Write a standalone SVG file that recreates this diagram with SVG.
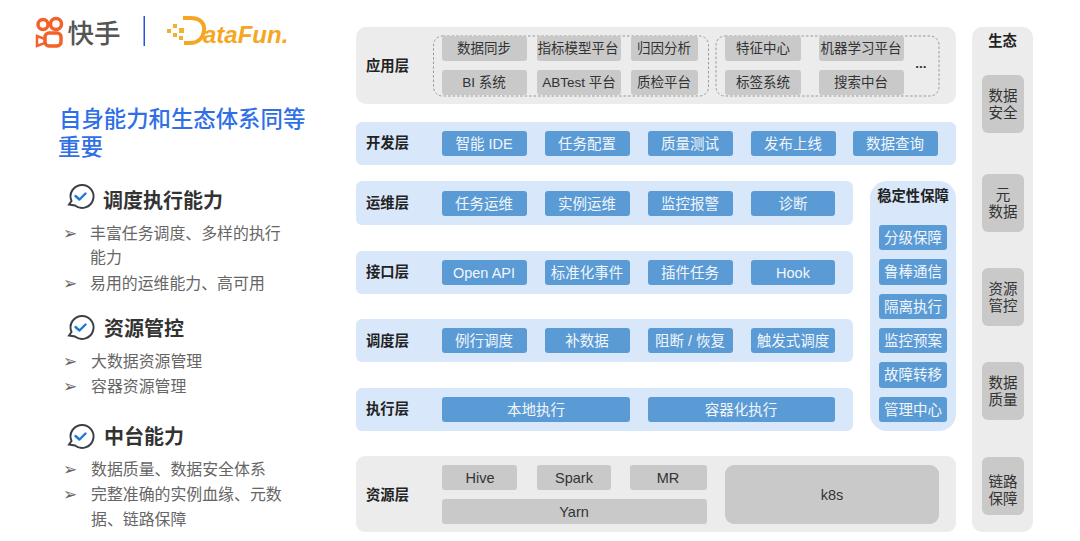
<svg xmlns="http://www.w3.org/2000/svg" width="1080" height="541" viewBox="0 0 1080 541">
<style>
text{font-family:"Liberation Sans","Noto Sans CJK SC",sans-serif}
.g{fill:#ececec}.b{fill:#d8e7f9}
.cg{fill:#c9c9c9}.cb{fill:#5a9bd5}
.tg{font-size:14.500px;fill:#333;text-anchor:middle}
.ta{font-size:13.500px;fill:#333;text-anchor:middle}
.tb{font-size:14.500px;fill:#f2f6fb;text-anchor:middle}
.lb{font-size:14.300px;font-weight:700;fill:#222;text-anchor:middle}
.h{font-size:20px;font-weight:700;fill:#333}
.li{font-size:15.900px;fill:#666}
.ar{font-size:17px;fill:#666;font-family:"DejaVu Sans",sans-serif}
.ds{fill:none;stroke:#999;stroke-width:1;stroke-dasharray:2.5 2}
.ck{fill:none;stroke:#1f78d8;stroke-width:2.4;stroke-linecap:round;stroke-linejoin:round}
.bu{fill:none;stroke:#3a4048;stroke-width:2}
</style>
<defs>
<g id="chk"><path class="bu" d="M69 204.500l2.500-3.500a11.500 11.500 0 1 1 3.500 4.500z"/><path class="ck" d="M75.500 196l4 3.500 6-6"/></g>
</defs>
<g id="logos">
<g fill="none" stroke="#f2622a" stroke-width="3.500"><circle cx="43" cy="24.500" r="5"/><circle cx="56" cy="24" r="5.500"/><rect x="45" y="33" width="16" height="13" rx="4"/></g>
<path d="M37 36l8 3v4l-8 3z" fill="none" stroke="#f2622a" stroke-width="2.500"/>
<text x="67.500" y="43" font-size="26.500" fill="#555" font-weight="500">快手</text>
<rect x="143.500" y="16" width="1.500" height="30" fill="#2a52e0"/>
<g fill="#f5b02e"><rect x="167" y="29" width="4" height="4"/><rect x="173" y="24" width="4" height="4"/><rect x="173" y="33" width="4" height="4"/><rect x="179" y="28" width="5" height="5"/><rect x="179" y="36" width="4" height="4"/></g>
<path d="M183 18h7c11 0 15 6 14 13-1 8-7 12-14 12h-6" fill="none" stroke="#f5a623" stroke-width="4"/>
<text x="203" y="43" font-size="24" font-weight="700" font-style="italic" fill="#f5a623">ataFun.</text>
</g>
<g id="left-panel">
<text x="59" y="127" font-size="22.400" font-weight="500" fill="#2f6fe8">自身能力和生态体系同等</text>
<text x="58" y="155" font-size="22.400" font-weight="500" fill="#2f6fe8">重要</text>
<use href="#chk"/>
<text class="h" x="103" y="208">调度执行能力</text>
<text class="ar" x="63" y="239">➢</text><text class="li" x="90" y="239">丰富任务调度、多样的执行</text>
<text class="li" x="90" y="263">能力</text>
<text class="ar" x="63" y="289">➢</text><text class="li" x="90" y="289">易用的运维能力、高可用</text>
<use href="#chk" y="131"/>
<text class="h" x="104" y="336">资源管控</text>
<text class="ar" x="63" y="367">➢</text><text class="li" x="91" y="367">大数据资源管理</text>
<text class="ar" x="63" y="392">➢</text><text class="li" x="91" y="392">容器资源管理</text>
<use href="#chk" y="240"/>
<text class="h" x="104" y="444">中台能力</text>
<text class="ar" x="63" y="475">➢</text><text class="li" x="91" y="475">数据质量、数据安全体系</text>
<text class="ar" x="63" y="500">➢</text><text class="li" x="91" y="500">完整准确的实例血缘、元数</text>
<text class="li" x="91" y="525">据、链路保障</text>
</g>
<g id="layer-app">
<rect class="g" x="356" y="27" width="600" height="77" rx="10"/>
<text class="lb" x="387.500" y="71">应用层</text>
<rect class="ds" x="433.500" y="36" width="275" height="60" rx="9"/>
<rect class="ds" x="716" y="36" width="223" height="60" rx="9"/>
<g class="cg">
<rect x="442" y="36" width="85" height="25" rx="3"/><rect x="537" y="36" width="84" height="25" rx="3"/><rect x="631" y="36" width="67" height="25" rx="3"/>
<rect x="442" y="70" width="85" height="25" rx="3"/><rect x="537" y="70" width="84" height="25" rx="3"/><rect x="631" y="70" width="67" height="25" rx="3"/>
<rect x="725" y="36" width="76" height="25" rx="3"/><rect x="819" y="36" width="85" height="25" rx="3"/>
<rect x="725" y="70" width="76" height="25" rx="3"/><rect x="819" y="70" width="85" height="25" rx="3"/>
</g>
<text class="ta" x="484" y="53">数据同步</text><text class="ta" x="578" y="53">指标模型平台</text><text class="ta" x="664" y="53">归因分析</text>
<text class="ta" x="484" y="87">BI 系统</text><text class="ta" x="579" y="87">ABTest 平台</text><text class="ta" x="664" y="87">质检平台</text>
<text class="ta" x="763" y="53">特征中心</text><text class="ta" x="861" y="53">机器学习平台</text>
<text class="ta" x="763" y="87">标签系统</text><text class="ta" x="861" y="87">搜索中台</text>
<text class="ta" x="921" y="68" font-weight="700">...</text>
</g>
<g id="layer-dev">
<rect class="b" x="356" y="122" width="600" height="43" rx="6"/>
<text class="lb" x="387.500" y="148">开发层</text>
<g class="cb"><rect x="442" y="131" width="85" height="25" rx="3"/><rect x="545" y="131" width="85" height="25" rx="3"/><rect x="648" y="131" width="85" height="25" rx="3"/><rect x="751" y="131" width="85" height="25" rx="3"/><rect x="853" y="131" width="85" height="25" rx="3"/></g>
<text class="tb" x="484" y="149">智能 IDE</text><text class="tb" x="587" y="149">任务配置</text><text class="tb" x="690" y="149">质量测试</text><text class="tb" x="793" y="149">发布上线</text><text class="tb" x="895" y="149">数据查询</text>
</g>
<g id="layer-ops">
<rect class="b" x="356" y="181" width="497" height="44" rx="6"/>
<text class="lb" x="387.500" y="208">运维层</text>
<g class="cb"><rect x="442" y="191" width="85" height="25" rx="3"/><rect x="545" y="191" width="85" height="25" rx="3"/><rect x="648" y="191" width="85" height="25" rx="3"/><rect x="751" y="191" width="84" height="25" rx="3"/></g>
<text class="tb" x="484" y="209">任务运维</text><text class="tb" x="587" y="209">实例运维</text><text class="tb" x="690" y="209">监控报警</text><text class="tb" x="793" y="209">诊断</text>
</g>
<g id="layer-api">
<rect class="b" x="356" y="251" width="497" height="43" rx="6"/>
<text class="lb" x="387.500" y="277">接口层</text>
<g class="cb"><rect x="442" y="260" width="85" height="25" rx="3"/><rect x="545" y="260" width="85" height="25" rx="3"/><rect x="648" y="260" width="85" height="25" rx="3"/><rect x="751" y="260" width="84" height="25" rx="3"/></g>
<text class="tb" x="484" y="278">Open API</text><text class="tb" x="587" y="278">标准化事件</text><text class="tb" x="690" y="278">插件任务</text><text class="tb" x="793" y="278">Hook</text>
</g>
<g id="layer-sched">
<rect class="b" x="356" y="319" width="497" height="43" rx="6"/>
<text class="lb" x="387.500" y="346">调度层</text>
<g class="cb"><rect x="442" y="328" width="85" height="25" rx="3"/><rect x="545" y="328" width="85" height="25" rx="3"/><rect x="648" y="328" width="85" height="25" rx="3"/><rect x="751" y="328" width="84" height="25" rx="3"/></g>
<text class="tb" x="484" y="346">例行调度</text><text class="tb" x="587" y="346">补数据</text><text class="tb" x="690" y="346">阻断 / 恢复</text><text class="tb" x="793" y="346">触发式调度</text>
</g>
<g id="layer-exec">
<rect class="b" x="356" y="388" width="497" height="43" rx="6"/>
<text class="lb" x="387.500" y="414">执行层</text>
<g class="cb"><rect x="442" y="397" width="188" height="25" rx="3"/><rect x="648" y="397" width="187" height="25" rx="3"/></g>
<text class="tb" x="536" y="415">本地执行</text><text class="tb" x="741" y="415">容器化执行</text>
</g>
<g id="stability">
<rect class="b" x="870" y="181" width="86" height="250" rx="17"/>
<text class="lb" x="913" y="201">稳定性保障</text>
<g class="cb"><rect x="879" y="225" width="68" height="25" rx="3"/><rect x="879" y="259" width="68" height="26" rx="3"/><rect x="879" y="294" width="68" height="25" rx="3"/><rect x="879" y="328" width="68" height="25" rx="3"/><rect x="879" y="362" width="68" height="26" rx="3"/><rect x="879" y="397" width="68" height="25" rx="3"/></g>
<text class="tb" x="913" y="243">分级保障</text><text class="tb" x="913" y="277">鲁棒通信</text><text class="tb" x="913" y="312">隔离执行</text><text class="tb" x="913" y="346">监控预案</text><text class="tb" x="913" y="380">故障转移</text><text class="tb" x="913" y="415">管理中心</text>
</g>
<g id="layer-res">
<rect class="g" x="356" y="456" width="600" height="76" rx="9"/>
<text class="lb" x="387.500" y="500">资源层</text>
<g class="cg"><rect x="442" y="465" width="75" height="25" rx="3"/><rect x="537" y="465" width="74" height="25" rx="3"/><rect x="630" y="465" width="77" height="25" rx="3"/><rect x="442" y="499" width="265" height="25" rx="3"/><rect x="725" y="465" width="214" height="59" rx="9"/></g>
<text class="tg" x="480" y="483">Hive</text><text class="tg" x="574" y="483">Spark</text><text class="tg" x="668" y="483">MR</text><text class="tg" x="574" y="517">Yarn</text><text class="tg" x="832" y="500">k8s</text>
</g>
<g id="ecosystem">
<rect class="g" x="972" y="27" width="61" height="505" rx="10"/>
<text class="lb" x="1002.500" y="46">生态</text>
<g class="cg"><rect x="982" y="75" width="42" height="58" rx="6"/><rect x="982" y="174" width="42" height="58" rx="6"/><rect x="982" y="268" width="42" height="58" rx="6"/><rect x="982" y="362" width="42" height="58" rx="6"/><rect x="982" y="457" width="42" height="58" rx="6"/></g>
<text class="tg" x="1003" y="101">数据</text><text class="tg" x="1003" y="118">安全</text>
<text class="tg" x="1003" y="200">元</text><text class="tg" x="1003" y="217">数据</text>
<text class="tg" x="1003" y="294">资源</text><text class="tg" x="1003" y="311">管控</text>
<text class="tg" x="1003" y="388">数据</text><text class="tg" x="1003" y="405">质量</text>
<text class="tg" x="1003" y="487">链路</text><text class="tg" x="1003" y="504">保障</text>
</g>
</svg>
